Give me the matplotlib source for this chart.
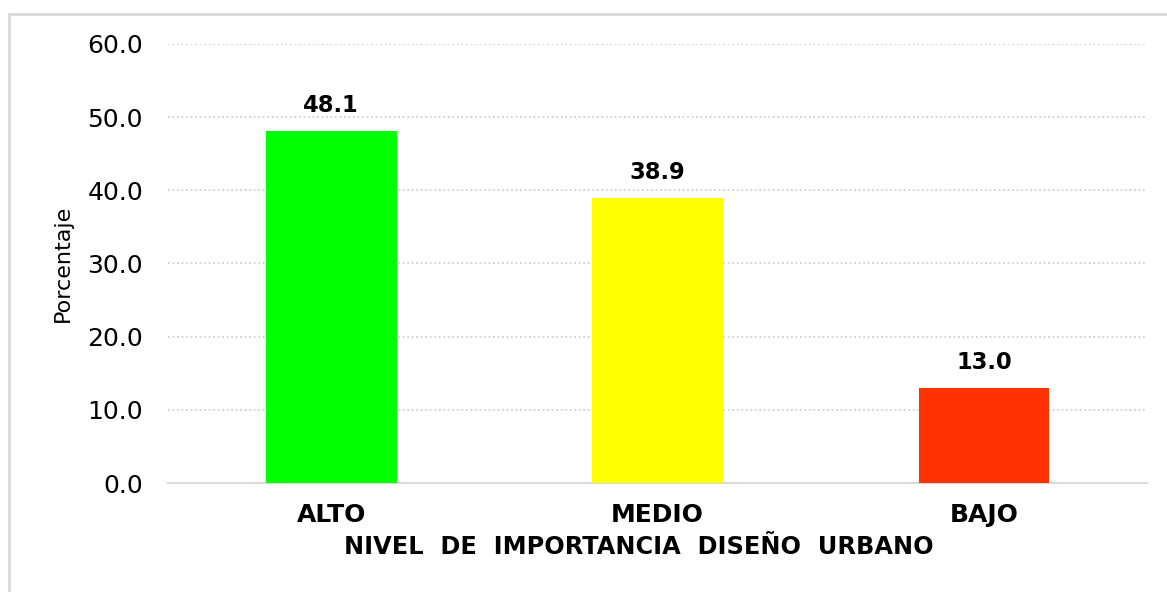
import matplotlib.pyplot as plt
from matplotlib.lines import Line2D

plt.rcParams['font.family'] = ['DejaVu Sans']

# datos
categorias = ["ALTO", "MEDIO", "BAJO"]
porcentajes = [48.1, 38.9, 13.0]
colores = ["#00FF00", "#FFFF00", "#FF3300"]
yticks = [0, 10, 20, 30, 40, 50, 60]

fig = plt.figure(figsize=(11.67, 5.92), dpi=100)
ax = fig.add_axes([0.144, 0.184, 0.839, 0.742])

x = range(len(categorias))
bars = ax.bar(x, porcentajes, width=0.4, color=colores, zorder=3)

for b, v in zip(bars, porcentajes):
    ax.text(b.get_x() + b.get_width() / 2, v + 1.9, f"{v:.1f}",
            ha="center", va="bottom", fontsize=16.3, fontweight="bold")

ax.set_xlim(-0.5, len(categorias) - 0.5)
ax.set_ylim(0, 60)
ax.set_yticks(yticks)
ax.set_yticklabels([f"{t:.1f}" for t in yticks])
ax.set_xticks(list(x))
ax.set_xticklabels(categorias, fontweight="bold")

ax.tick_params(axis="y", length=0, pad=18, labelsize=18)
ax.tick_params(axis="x", length=0, pad=14, labelsize=18)

for s in ["top", "right", "left"]:
    ax.spines[s].set_visible(False)
ax.spines["bottom"].set_color("#d9d9d9")
ax.spines["bottom"].set_linewidth(1.5)

ax.yaxis.grid(True, linestyle=(0, (1, 1.5)), color="#d0d0d0", linewidth=1.3, zorder=0)
for gl in ax.yaxis.get_gridlines()[:1]:
    gl.set_visible(False)

ax.set_ylabel("Porcentaje", fontsize=16)
ax.yaxis.set_label_coords(-0.097, 0.5)
ax.set_xlabel("NIVEL  DE  IMPORTANCIA  DISEÑO  URBANO", fontsize=17.3,
              fontweight="bold")
ax.xaxis.set_label_coords(0.481, -0.118)

# marco exterior
fig.add_artist(Line2D([9 / 1167, 9 / 1167], [0, 1 - 14 / 592],
                      color="#d9d9d9", linewidth=2))
fig.add_artist(Line2D([9 / 1167, 1], [1 - 14 / 592, 1 - 14 / 592],
                      color="#d9d9d9", linewidth=2))

fig.savefig("out.png", dpi=100)
